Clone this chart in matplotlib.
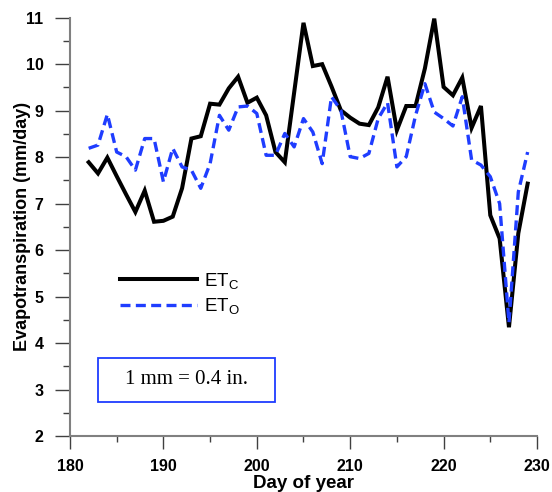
import matplotlib
matplotlib.use("Agg")
import matplotlib.pyplot as plt
from matplotlib.patches import Rectangle
from matplotlib.ticker import MultipleLocator

days = list(range(182, 230))
etc = [7.89, 7.65, 7.99, 7.59, 7.2, 6.82, 7.28, 6.61, 6.63, 6.72, 7.33, 8.40,
       8.45, 9.15, 9.13, 9.48, 9.73, 9.17, 9.28, 8.90, 8.11, 7.89, 9.39, 10.89,
       9.96, 10.0, 9.52, 9.01, 8.85, 8.72, 8.69, 9.07, 9.73, 8.58, 9.10, 9.10,
       9.91, 10.98, 9.51, 9.33, 9.71, 8.63, 9.10, 6.75, 6.25, 4.34, 6.36, 7.43]
eto = [8.19, 8.26, 8.92, 8.11, 8.01, 7.72, 8.40, 8.40, 7.47, 8.19, 7.79, 7.72,
       7.33, 7.86, 8.90, 8.58, 9.08, 9.10, 8.94, 8.04, 8.04, 8.51, 8.22, 8.83,
       8.54, 7.86, 9.30, 9.01, 8.01, 7.97, 8.08, 8.83, 9.17, 7.79, 8.01, 8.90,
       9.58, 8.97, 8.83, 8.67, 9.30, 7.94, 7.83, 7.58, 7.00, 4.44, 7.25, 8.11]
x_ticks = [180, 190, 200, 210, 220, 230]
y_ticks = [2, 3, 4, 5, 6, 7, 8, 9, 10, 11]

plt.rcParams['font.family'] = ['Liberation Sans', 'DejaVu Sans']
plt.rcParams['mathtext.default'] = 'regular'

BLUE = '#1f3dff'
SPINE = '#808080'

fig = plt.figure(figsize=(5.52, 4.92), dpi=100)
ax = fig.add_axes([0.1268, 0.1138, 0.9728 - 0.1268, 0.964 - 0.1138])

ax.plot(days, etc, color='black', lw=2.9, solid_joinstyle='miter',
        label='ET$_{C}$', zorder=3)
ax.plot(days, eto, color=BLUE, lw=2.4, dashes=(3, 1.6),
        label='ET$_{O}$', zorder=4)

ax.set_xlim(180, 230)
ax.set_ylim(2, 11)
ax.set_xticks(x_ticks)
ax.set_xticklabels([str(v) for v in x_ticks], fontweight='bold', fontsize=11.5)
ax.set_yticks(y_ticks)
ax.set_yticklabels([str(v) for v in y_ticks], fontweight='bold', fontsize=11.5)
ax.xaxis.set_minor_locator(MultipleLocator(5))
ax.yaxis.set_minor_locator(MultipleLocator(0.5))

for s in ['top', 'right']:
    ax.spines[s].set_visible(False)
for s in ['left', 'bottom']:
    ax.spines[s].set_color(SPINE)
    ax.spines[s].set_linewidth(1.5)

ax.tick_params(axis='y', which='major', direction='out', length=11, width=1,
               color='#404040', pad=8)
ax.tick_params(axis='y', which='minor', direction='out', length=5, width=1,
               color='#404040')
ax.tick_params(axis='x', which='major', direction='out', length=9.5, width=1,
               color='#404040', pad=7)
ax.tick_params(axis='x', which='minor', direction='out', length=4.5, width=1,
               color='#404040')

ax.set_xlabel('Day of year', fontsize=13.5, fontweight='bold', labelpad=1)
ax.set_ylabel('Evapotranspiration (mm/day)', fontsize=13, fontweight='bold',
              labelpad=-4)

leg = ax.legend(loc='upper left', bbox_to_anchor=(0.107, 0.395), frameon=False,
                fontsize=13.5, handlelength=4.1, handletextpad=0.4,
                labelspacing=0.3, borderpad=0, borderaxespad=0)

ax.add_patch(Rectangle((0.06, 0.0813), 0.379, 0.1052, transform=ax.transAxes,
                       fill=False, edgecolor=BLUE, lw=1.3, zorder=5))
ax.text(0.2495, 0.134, '1 mm = 0.4 in.', transform=ax.transAxes,
        ha='center', va='center', fontsize=15, family='Liberation Serif')

fig.savefig('out.png', dpi=100)
